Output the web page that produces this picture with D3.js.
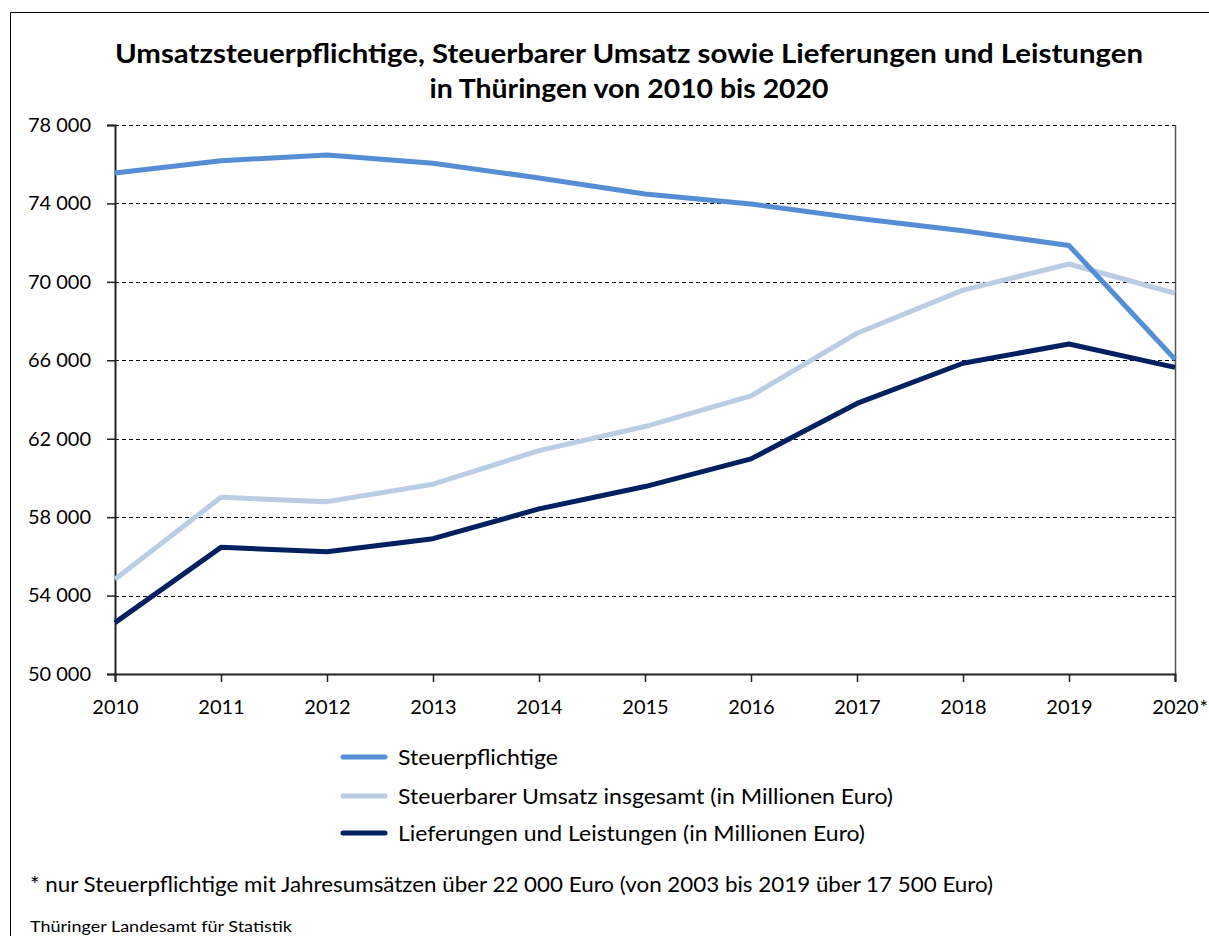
<!DOCTYPE html>
<html>
<head>
<meta charset="utf-8">
<script src="https://cdn.jsdelivr.net/npm/d3@7"></script>
<style>
  body { margin: 0; background: #fff; }
  svg { display: block; font-family: Lato, "Noto Sans", sans-serif; }
</style>
</head>
<body>
<div id="chart"></div>
<script>
// data
var years = [2010, 2011, 2012, 2013, 2014, 2015, 2016, 2017, 2018, 2019, 2020];
var steuerpflichtige = [75550, 76180, 76470, 76050, 75300, 74480, 73970, 73240, 72610, 71850, 66050];
var umsatz = [54830, 59010, 58790, 59680, 61390, 62620, 64180, 67380, 69580, 70910, 69420];
var lieferungen = [52620, 56460, 56240, 56900, 58420, 59560, 60970, 63800, 65850, 66830, 65640];
var yTicks = [50000, 54000, 58000, 62000, 66000, 70000, 74000, 78000];
var seriesNames = ['Steuerpflichtige', 'Steuerbarer Umsatz insgesamt (in Millionen Euro)', 'Lieferungen und Leistungen (in Millionen Euro)'];
var seriesColors = ['#558ed5', '#b9cde5', '#002060'];

var width = 1209, height = 936;
var svg = d3.select('#chart').append('svg')
  .attr('width', width)
  .attr('height', height);

// outer frame (top + left visible)
svg.append('path')
  .attr('d', 'M10.5,' + height + 'V12.5H' + width)
  .attr('fill', 'none')
  .attr('stroke', '#000')
  .attr('stroke-width', 1);

// title
svg.append('text')
  .attr('x', 629).attr('y', 63)
  .attr('text-anchor', 'middle')
  .attr('font-size', 27).attr('font-weight', 'bold')
  .attr('textLength', 1028).attr('lengthAdjust', 'spacingAndGlyphs')
  .text('Umsatzsteuerpflichtige, Steuerbarer Umsatz sowie Lieferungen und Leistungen');
svg.append('text')
  .attr('x', 629).attr('y', 98)
  .attr('text-anchor', 'middle')
  .attr('font-size', 27).attr('font-weight', 'bold')
  .attr('textLength', 399).attr('lengthAdjust', 'spacingAndGlyphs')
  .text('in Thüringen von 2010 bis 2020');

var x = d3.scaleLinear().domain([2010, 2020]).range([115, 1175]);
var y = d3.scaleLinear().domain([50000, 78000]).range([674, 125]);

var locale = d3.formatLocale({ decimal: ',', thousands: ' ', grouping: [3], currency: ['', ' €'] });
var fmt = locale.format(',');

// grid lines
svg.append('g')
  .selectAll('line')
  .data(yTicks.filter(function(d) { return d > 50000; }))
  .enter().append('line')
  .attr('x1', 115).attr('x2', 1175)
  .attr('y1', function(d) { return Math.round(y(d)) + 0.5; })
  .attr('y2', function(d) { return Math.round(y(d)) + 0.5; })
  .attr('stroke', '#000')
  .attr('stroke-width', 1)
  .attr('stroke-dasharray', '4,3');

// right border of plot
svg.append('line')
  .attr('x1', 1175.5).attr('x2', 1175.5)
  .attr('y1', 125).attr('y2', 674)
  .attr('stroke', '#555').attr('stroke-width', 1.5);

// y axis
var yAxis = d3.axisLeft(y).tickValues(yTicks).tickSize(8).tickPadding(16)
  .tickFormat(fmt);
var gy = svg.append('g').attr('transform', 'translate(115,0)').call(yAxis);
gy.select('.domain').attr('stroke', '#222').attr('stroke-width', 2);
gy.selectAll('.tick line').attr('stroke', '#222').attr('stroke-width', 1.5);
gy.selectAll('.tick text').attr('font-size', 20).attr('fill', '#000')
  .attr('font-family', 'Lato, "Noto Sans", sans-serif');

// x axis
var xAxis = d3.axisBottom(x).tickValues(years).tickSize(8).tickPadding(18)
  .tickFormat(function(d) { return String(d); });
var gx = svg.append('g').attr('transform', 'translate(0,674)').call(xAxis);
gx.select('.domain').attr('stroke', '#222').attr('stroke-width', 2);
gx.selectAll('.tick line').attr('stroke', '#222').attr('stroke-width', 1.5);
gx.selectAll('.tick text').attr('font-size', 20).attr('fill', '#000')
  .attr('font-family', 'Lato, "Noto Sans", sans-serif');
// asterisk after 2020
gx.selectAll('.tick').filter(function(d) { return d === 2020; })
  .append('text')
  .attr('x', 24).attr('y', 26).attr('dy', '0.71em')
  .attr('fill', '#000').attr('font-size', 20)
  .attr('font-family', 'Lato, "Noto Sans", sans-serif')
  .attr('text-anchor', 'start')
  .text('*');

// lines
var allSeries = [steuerpflichtige, umsatz, lieferungen];
var line = d3.line()
  .x(function(d, i) { return x(years[i]); })
  .y(function(d) { return y(d); });

[1, 2, 0].forEach(function(k) {
  svg.append('path')
    .datum(allSeries[k])
    .attr('d', line)
    .attr('fill', 'none')
    .attr('stroke', seriesColors[k])
    .attr('stroke-width', 5)
    .attr('stroke-linejoin', 'round');
});

// legend
var legendY = [757, 796, 833];
var legendLen = [160, 495, 467];
var legend = svg.append('g');
seriesNames.forEach(function(name, i) {
  legend.append('line')
    .attr('x1', 343).attr('x2', 385)
    .attr('y1', legendY[i]).attr('y2', legendY[i])
    .attr('stroke', seriesColors[i])
    .attr('stroke-width', 5)
    .attr('stroke-linecap', 'round');
  legend.append('text')
    .attr('x', 398).attr('y', legendY[i] + 8)
    .attr('font-size', 22)
    .attr('textLength', legendLen[i]).attr('lengthAdjust', 'spacingAndGlyphs')
    .text(name);
});

// footnote and source
svg.append('text')
  .attr('x', 30).attr('y', 892)
  .attr('font-size', 22)
  .attr('textLength', 963).attr('lengthAdjust', 'spacingAndGlyphs')
  .text('* nur Steuerpflichtige mit Jahresumsätzen über 22 000 Euro (von 2003 bis 2019 über 17 500 Euro)');
svg.append('text')
  .attr('x', 30).attr('y', 932)
  .attr('font-size', 16)
  .attr('textLength', 262).attr('lengthAdjust', 'spacingAndGlyphs')
  .text('Thüringer Landesamt für Statistik');
</script>
</body>
</html>
